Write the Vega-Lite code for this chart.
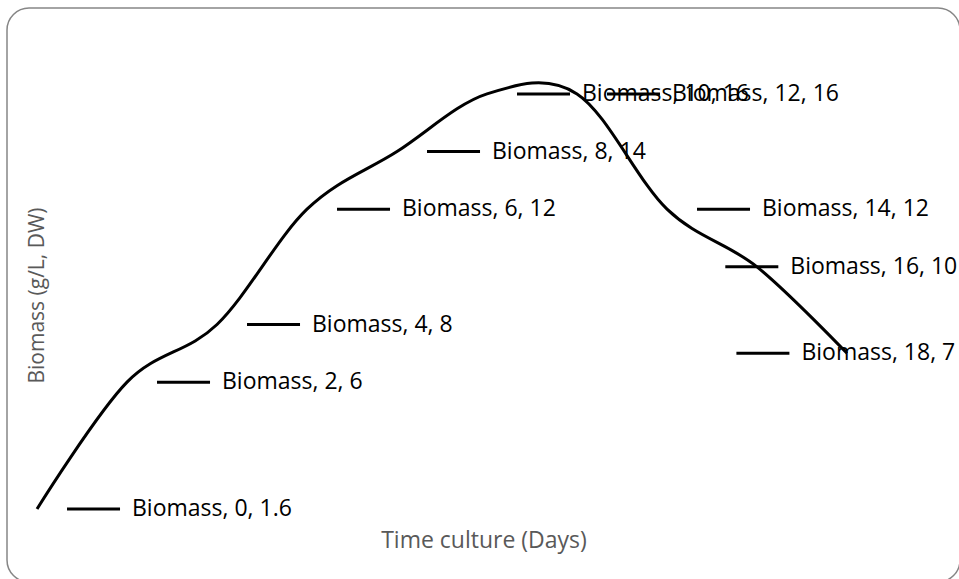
{
  "$schema": "https://vega.github.io/schema/vega-lite/v6.json",
  "width": 953,
  "height": 574,
  "autosize": {"type": "none"},
  "padding": {"left": 7, "top": 8, "right": -1, "bottom": -3},
  "background": "white",
  "config": {
    "view": {"stroke": "#868686", "strokeWidth": 1.5, "cornerRadius": 22},
    "font": "Open Sans"
  },
  "data": {
    "values": [
      {"day": 0, "biomass": 1.6},
      {"day": 2, "biomass": 6},
      {"day": 4, "biomass": 8},
      {"day": 6, "biomass": 12},
      {"day": 8, "biomass": 14},
      {"day": 10, "biomass": 16},
      {"day": 12, "biomass": 16},
      {"day": 14, "biomass": 12},
      {"day": 16, "biomass": 10},
      {"day": 18, "biomass": 7}
    ]
  },
  "transform": [
    {"calculate": "'Biomass, ' + datum.day + ', ' + datum.biomass", "as": "label"},
    {"calculate": "min(datum.day + 0.6667, 20.44 - (65 + 11.1 * length(datum.label)) / 45)", "as": "keyStart"},
    {"calculate": "datum.keyStart + 1.178", "as": "keyEnd"}
  ],
  "encoding": {
    "y": {
      "field": "biomass",
      "type": "quantitative",
      "scale": {"domain": [-0.933, 18.98], "nice": false, "zero": false},
      "axis": {
        "title": "Biomass (g/L, DW)",
        "labels": false, "ticks": false, "domain": false, "grid": false,
        "titleFont": "Open Sans", "titleFontSize": 21, "titleFontWeight": "normal",
        "titleColor": "#595959", "titlePadding": -40
      }
    }
  },
  "layer": [
    {
      "mark": {"type": "rule", "strokeWidth": 3, "color": "black"},
      "encoding": {
        "x": {
          "field": "keyStart", "type": "quantitative",
          "scale": {"domain": [-0.667, 20.511], "nice": false, "zero": false},
          "axis": {
            "title": "Time culture (Days)",
            "labels": false, "ticks": false, "domain": false, "grid": false,
            "titleFont": "Open Sans", "titleFontSize": 23, "titleFontWeight": "normal",
            "titleColor": "#595959", "titlePadding": -53
          }
        },
        "x2": {"field": "keyEnd"}
      }
    },
    {
      "mark": {"type": "text", "align": "left", "baseline": "middle", "dx": 65, "fontSize": 23, "color": "black", "font": "Open Sans"},
      "encoding": {
        "x": {
          "field": "keyStart", "type": "quantitative",
          "axis": {
            "title": "Time culture (Days)",
            "labels": false, "ticks": false, "domain": false, "grid": false,
            "titleFont": "Open Sans", "titleFontSize": 23, "titleFontWeight": "normal",
            "titleColor": "#595959", "titlePadding": -53
          }
        },
        "text": {"field": "label"}
      }
    },
    {
      "mark": {"type": "line", "interpolate": "cardinal", "strokeWidth": 3, "color": "black"},
      "encoding": {
        "x": {
          "field": "day", "type": "quantitative",
          "axis": {
            "title": "Time culture (Days)",
            "labels": false, "ticks": false, "domain": false, "grid": false,
            "titleFont": "Open Sans", "titleFontSize": 23, "titleFontWeight": "normal",
            "titleColor": "#595959", "titlePadding": -53
          }
        }
      }
    }
  ]
}
